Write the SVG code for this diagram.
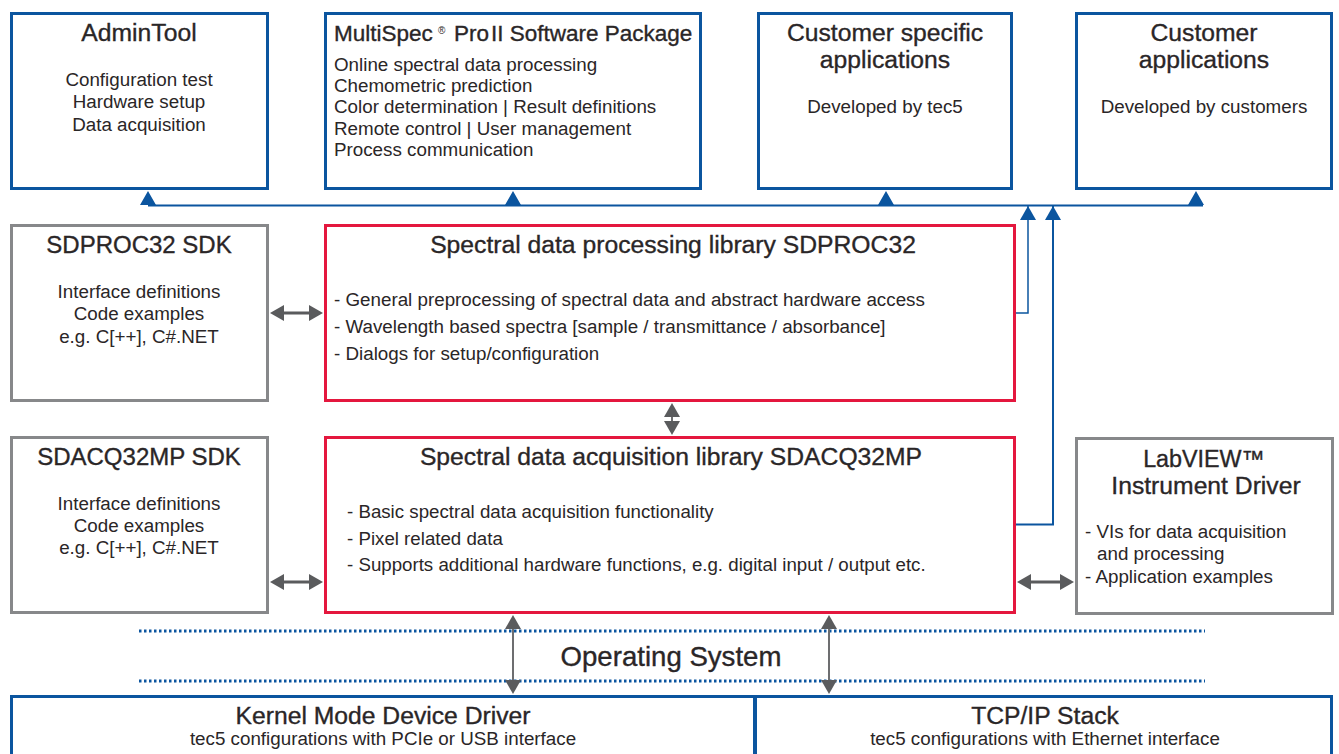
<svg xmlns="http://www.w3.org/2000/svg" width="1339" height="754" viewBox="0 0 1339 754">
<style>
text{font-family:"Liberation Sans",Arial,sans-serif;fill:#2a2627}
.t{font-size:24.7px;text-anchor:middle;stroke:#2a2627;stroke-width:.35}
.m{font-size:22.5px;stroke:#2a2627;stroke-width:.35}
.b{font-size:18.8px}
.c{font-size:18.8px;text-anchor:middle}
.box{fill:#fff;stroke-width:3}
.blue{stroke:#0b559f}.gray{stroke:#87888a}.red{stroke:#e4173e}
.wire{fill:none;stroke:#0b559f;stroke-width:2}
.dbl{fill:none;stroke:#5a5b5d;stroke-width:3;marker-start:url(#g);marker-end:url(#g)}
.dv{stroke:#6d6e70;stroke-width:2}
.dot{fill:none;stroke:#0b559f;stroke-width:3;stroke-dasharray:2.5 2.5}
</style>
<defs>
<marker id="g" markerUnits="userSpaceOnUse" markerWidth="16" markerHeight="16" refX="10" refY="8" orient="auto-start-reverse"><path d="M0 0L14 8L0 16Z" fill="#5a5b5d"/></marker>
<marker id="u" markerUnits="userSpaceOnUse" markerWidth="16" markerHeight="16" refX="14" refY="8" orient="auto"><path d="M0 0L14 8L0 16Z" fill="#0b559f"/></marker>
</defs>
<g id="admintool"><rect class="box blue" x="11.500" y="13.500" width="256" height="175"/>
<text class="t" x="139" y="41">AdminTool</text>
<text class="c" x="139" y="86">Configuration test</text><text class="c" x="139" y="108">Hardware setup</text><text class="c" x="139" y="131">Data acquisition</text></g>
<g id="multispec"><rect class="box blue" x="325.500" y="13.500" width="375" height="175"/>
<text class="m" x="334" y="41">MultiSpec</text><text x="438" y="34" style="font-size:10px">®</text><text class="m" x="454" y="41">Pro</text><text class="m" x="491" y="41">II Software Package</text>
<text class="b" x="334" y="71">Online spectral data processing</text><text class="b" x="334" y="92">Chemometric prediction</text><text class="b" x="334" y="113">Color determination | Result definitions</text><text class="b" x="334" y="135">Remote control | User management</text><text class="b" x="334" y="156">Process communication</text></g>
<g id="customer-specific"><rect class="box blue" x="758.500" y="13.500" width="253" height="175"/>
<text class="t" x="885" y="41">Customer specific</text><text class="t" x="885" y="68">applications</text><text class="c" x="885" y="113">Developed by tec5</text></g>
<g id="customer-apps"><rect class="box blue" x="1076.500" y="13.500" width="255" height="175"/>
<text class="t" x="1204" y="41">Customer</text><text class="t" x="1204" y="68">applications</text><text class="c" x="1204" y="113">Developed by customers</text></g>
<g id="sdproc-sdk"><rect class="box gray" x="11.500" y="225.500" width="256" height="175"/>
<text class="t" x="139" y="253" style="font-size:24px">SDPROC32 SDK</text><text class="c" x="139" y="298">Interface definitions</text><text class="c" x="139" y="320">Code examples</text><text class="c" x="139" y="343">e.g. C[++], C#.NET</text></g>
<g id="sdproc"><rect class="box red" x="325.500" y="225.500" width="689" height="175"/>
<text class="t" x="673" y="253">Spectral data processing library SDPROC32</text>
<text class="b" x="334" y="306">- General preprocessing of spectral data and abstract hardware access</text><text class="b" x="334" y="333">- Wavelength based spectra [sample / transmittance / absorbance]</text><text class="b" x="334" y="360">- Dialogs for setup/configuration</text></g>
<g id="sdacq-sdk"><rect class="box gray" x="11.500" y="437.500" width="256" height="175"/>
<text class="t" x="139" y="465" style="font-size:24px">SDACQ32MP SDK</text><text class="c" x="139" y="510">Interface definitions</text><text class="c" x="139" y="532">Code examples</text><text class="c" x="139" y="554">e.g. C[++], C#.NET</text></g>
<g id="sdacq"><rect class="box red" x="325.500" y="437.500" width="689" height="175"/>
<text class="t" x="671" y="465">Spectral data acquisition library SDACQ32MP</text>
<text class="b" x="347" y="518" style="font-size:18.7px">- Basic spectral data acquisition functionality</text><text class="b" x="347" y="545" style="font-size:18.7px">- Pixel related data</text><text class="b" x="347" y="571" style="font-size:18.7px">- Supports additional hardware functions, e.g. digital input / output etc.</text></g>
<g id="labview"><rect class="box gray" x="1076.500" y="438.500" width="256" height="175"/>
<text class="t" x="1204" y="467" style="font-size:23.3px">LabVIEW™</text><text class="t" x="1206" y="494">Instrument Driver</text>
<text class="b" x="1085" y="538">- VIs for data acquisition</text><text class="b" x="1097" y="560">and processing</text><text class="b" x="1085" y="583">- Application examples</text></g>
<g id="os"><text x="671" y="666" style="font-size:27.600px;text-anchor:middle;stroke:#2a2627;stroke-width:.35">Operating System</text></g>
<g id="kernel"><rect class="box blue" x="11.500" y="696.500" width="743" height="70"/>
<text class="t" x="383" y="724">Kernel Mode Device Driver</text><text class="c" x="383" y="745">tec5 configurations with PCIe or USB interface</text></g>
<g id="tcpip"><rect class="box blue" x="755.500" y="696.500" width="576" height="70"/>
<text class="t" x="1045" y="724">TCP/IP Stack</text><text class="c" x="1045" y="745">tec5 configurations with Ethernet interface</text></g>
<g id="connectors">
<path class="dot" d="M139 631H1205M139 681H1205"/>
<path class="wire" d="M148 205.500H1203"/>
<path d="M140 205L148 191L156 205ZM505 205L513 191L521 205ZM878 205L886 191L894 205ZM1188 205L1196 191L1204 205Z" fill="#0b559f"/>
<path class="wire" d="M1016 313H1028V206" marker-end="url(#u)" style="stroke-width:1.500"/>
<path class="wire" d="M1016 524.500H1053V206" marker-end="url(#u)"/>
<path class="dbl" d="M274 313H319"/>
<path class="dbl dv" d="M672 407V431"/>
<path class="dbl" d="M274 582H319"/>
<path class="dbl" d="M1021 582H1070"/>
<path class="dbl dv" d="M513 619V690"/>
<path class="dbl dv" d="M829 619V690"/>
</g>
</svg>
